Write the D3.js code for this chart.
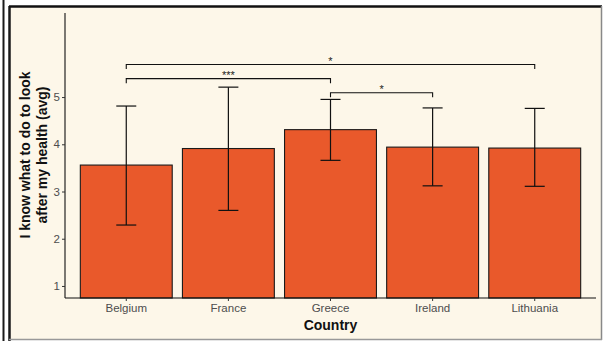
<!DOCTYPE html>
<html><head><meta charset="utf-8">
<script src="https://cdn.jsdelivr.net/npm/d3@7"></script>
<style>
html,body{margin:0;padding:0;background:#ffffff;}
svg{display:block;font-family:"Liberation Sans",Arial,sans-serif;}
</style></head>
<body>
<script>
const countries = ["Belgium","France","Greece","Ireland","Lithuania"];
const means = [3.56, 3.91, 4.31, 3.94, 3.92];
const errLow = [2.29, 2.60, 3.66, 3.12, 3.11];
const errHigh = [4.81, 5.21, 4.95, 4.77, 4.76];
const yTicks = [1,2,3,4,5];
const sigFrom = ["Belgium","Belgium","Greece"];
const sigTo = ["Lithuania","Greece","Ireland"];
const sigLabel = ["*","***","*"];
const sigLevel = [5.69, 5.39, 5.09];

const W=604,H=341;
const svg=d3.select("body").append("svg").attr("width",W).attr("height",H);

// outer frames
svg.append("rect").attr("x",0).attr("y",0).attr("width",W).attr("height",H).attr("fill","#ffffff");
svg.append("line").attr("x1",3.5).attr("x2",3.5).attr("y1",0).attr("y2",H).attr("stroke","#1a1a1a").attr("stroke-width",2);
svg.append("rect").attr("x",9).attr("y",6).attr("width",592).attr("height",333).attr("fill","#FDF7E9");
svg.append("line").attr("x1",9.5).attr("x2",9.5).attr("y1",6).attr("y2",H).attr("stroke","#1a1a1a").attr("stroke-width",2.5);
svg.append("line").attr("x1",9).attr("x2",602).attr("y1",6.5).attr("y2",6.5).attr("stroke","#111").attr("stroke-width",2.5);
svg.append("line").attr("x1",601.5).attr("x2",601.5).attr("y1",6).attr("y2",340).attr("stroke","#888").attr("stroke-width",1.5);
svg.append("line").attr("x1",9).attr("x2",602).attr("y1",339.5).attr("y2",339.5).attr("stroke","#999").attr("stroke-width",1.5);

const mLeft=65, mRight=596, mTop=13, mBottom=298;
const x=d3.scaleBand().domain(countries).range([mLeft,mRight]).paddingInner(0.1).paddingOuter(0.15);
const y=d3.scaleLinear().domain([0.745,6.78]).range([mBottom,mTop]);

const g=svg.append("g");
// bars
g.selectAll("rect.bar").data(countries).enter().append("rect")
  .attr("x",d=>x(d)).attr("width",x.bandwidth())
  .attr("y",(d,i)=>y(means[i])).attr("height",(d,i)=>y(0.745)-y(means[i]))
  .attr("fill","#E9592B").attr("stroke","#1a1a1a").attr("stroke-width",1.1);

// error bars
const cx=d=>x(d)+x.bandwidth()/2;
const eb=g.selectAll("g.eb").data(countries).enter().append("g").attr("stroke","#111").attr("stroke-width",1.2);
eb.append("line").attr("x1",cx).attr("x2",cx).attr("y1",(d,i)=>y(errLow[i])).attr("y2",(d,i)=>y(errHigh[i]));
eb.append("line").attr("x1",d=>cx(d)-10).attr("x2",d=>cx(d)+10).attr("y1",(d,i)=>y(errHigh[i])).attr("y2",(d,i)=>y(errHigh[i]));
eb.append("line").attr("x1",d=>cx(d)-10).attr("x2",d=>cx(d)+10).attr("y1",(d,i)=>y(errLow[i])).attr("y2",(d,i)=>y(errLow[i]));

// significance brackets
sigLabel.forEach((lab,i)=>{
  const x1=cx(sigFrom[i]), x2=cx(sigTo[i]), yy=y(sigLevel[i]);
  g.append("path").attr("d",`M${x1},${yy+4.5}V${yy}H${x2}V${yy+4.5}`)
    .attr("fill","none").attr("stroke","#111").attr("stroke-width",1.1);
  g.append("text").attr("x",(x1+x2)/2).attr("y",yy+0.5).attr("text-anchor","middle")
    .attr("font-size",11).attr("fill","#222").text(lab);
});

// axes
const ya=svg.append("g").attr("transform",`translate(${mLeft},0)`)
  .call(d3.axisLeft(y).tickValues(yTicks).tickSize(3).tickPadding(2).tickFormat(d3.format("d")));
ya.select(".domain").attr("d",`M0,${mTop}V${mBottom}`).attr("stroke","#111").attr("stroke-width",1.1);
ya.selectAll(".tick line").attr("stroke","#333");
ya.selectAll(".tick text").attr("font-size",11.5).attr("fill","#4d4d4d").attr("font-family","Liberation Sans, Arial, sans-serif");

const xa=svg.append("g").attr("transform",`translate(0,${mBottom})`)
  .call(d3.axisBottom(x).tickSize(3).tickPadding(2.5));
xa.select(".domain").attr("d",`M${mLeft},0H${mRight}`).attr("stroke","#111").attr("stroke-width",1.1);
xa.selectAll(".tick line").attr("stroke","#333");
xa.selectAll(".tick text").attr("font-size",11.5).attr("fill","#4d4d4d").attr("font-family","Liberation Sans, Arial, sans-serif");

// titles
svg.append("text").attr("x",(mLeft+mRight)/2).attr("y",330).attr("text-anchor","middle")
  .attr("font-size",14).attr("font-weight","bold").attr("fill","#111").text("Country");
const yt=svg.append("text").attr("transform","translate(30,155) rotate(-90)")
  .attr("text-anchor","middle").attr("font-size",14).attr("font-weight","bold").attr("fill","#111");
yt.append("tspan").attr("x",0).attr("y",0).text("I know what to do to look");
yt.append("tspan").attr("x",0).attr("y",16.5).text("after my health (avg)");
</script>
</body></html>
